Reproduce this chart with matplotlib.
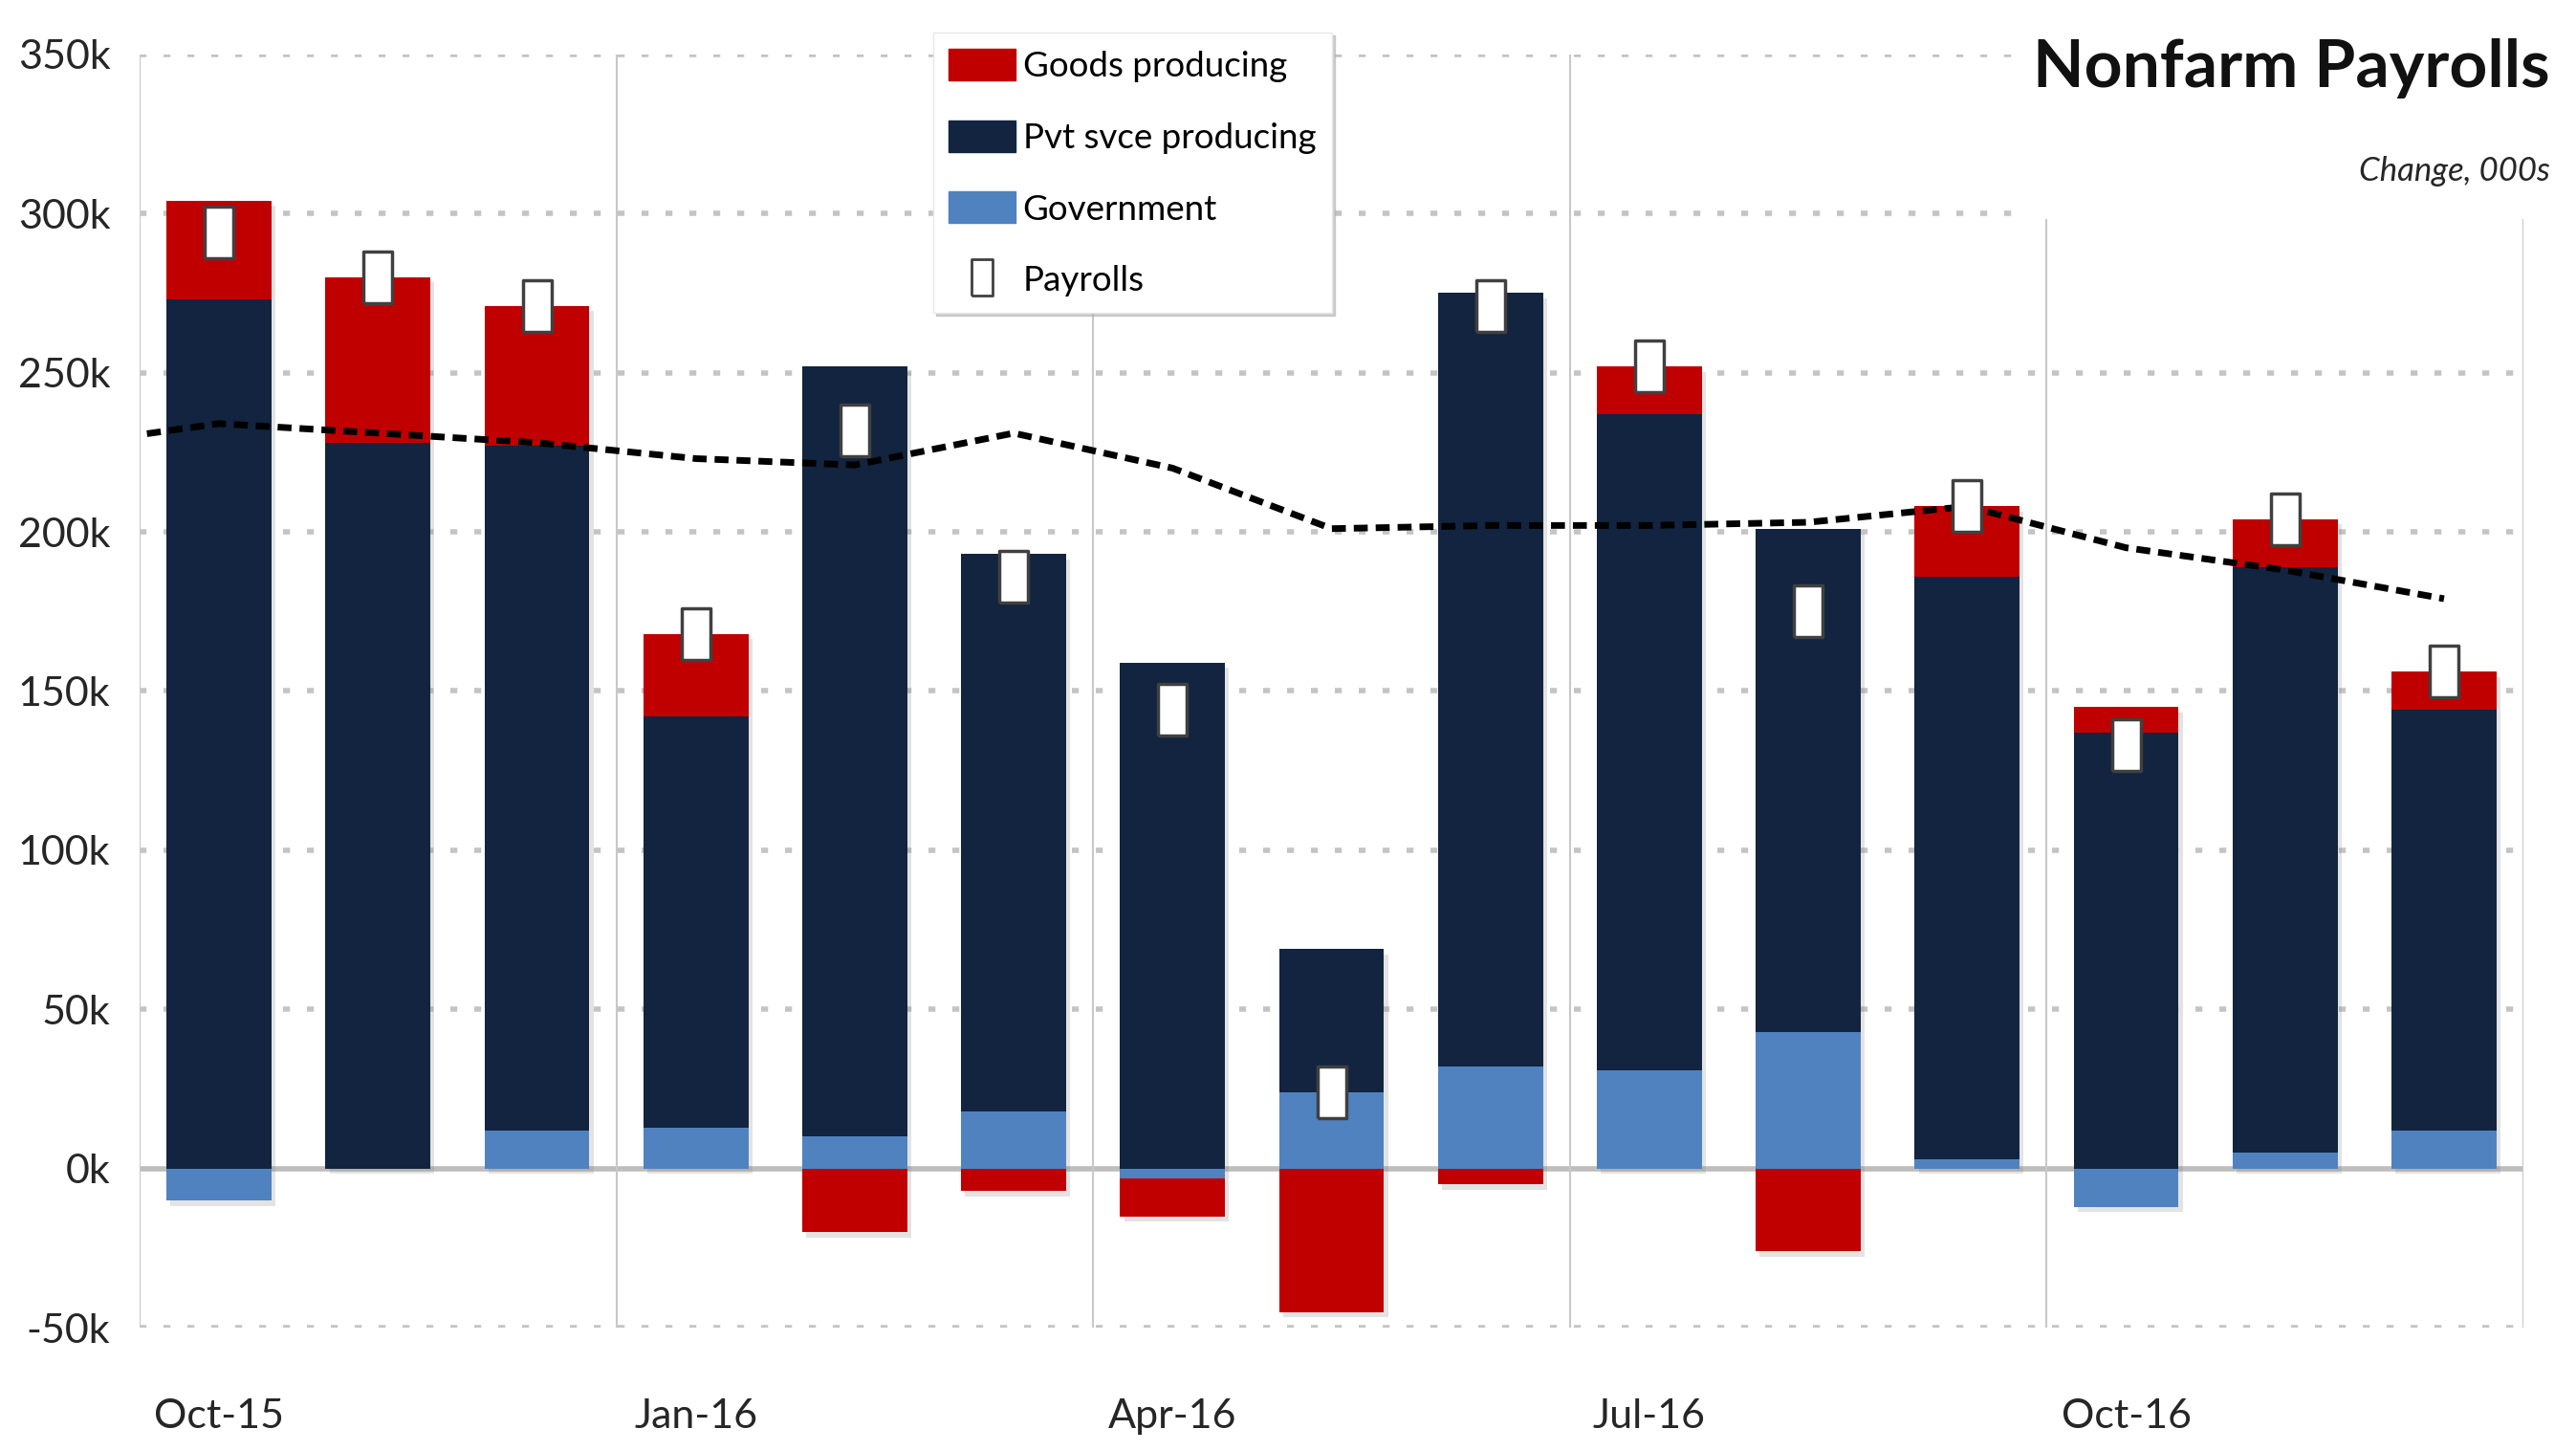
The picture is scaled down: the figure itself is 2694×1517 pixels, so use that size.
import numpy as np
import matplotlib
matplotlib.use('Agg')
import matplotlib.pyplot as plt
from matplotlib.patches import Patch, Rectangle
from matplotlib.lines import Line2D
from matplotlib.transforms import ScaledTranslation

plt.rcParams['font.family'] = ['Lato', 'DejaVu Sans']

# monthly change, thousands
months = ['Oct-15', 'Nov-15', 'Dec-15', 'Jan-16', 'Feb-16', 'Mar-16', 'Apr-16', 'May-16',
          'Jun-16', 'Jul-16', 'Aug-16', 'Sep-16', 'Oct-16', 'Nov-16', 'Dec-16']
goods = [31, 52, 44, 26, -20, -7, -12, -45, -5, 15, -26, 22, 8, 15, 12]
pvt_svce = [273, 228, 215, 129, 242, 175, 159, 45, 243, 206, 158, 183, 137, 184, 132]
govt = [-10, 0, 12, 13, 10, 18, -3, 24, 32, 31, 43, 3, -12, 5, 12]
payrolls = [294, 280, 271, 168, 232, 186, 144, 24, 271, 252, 175, 208, 133, 204, 156]
# 12m average, starts one month earlier (Sep-15)
avg_line = [227, 234, 231, 228, 223, 221, 231, 220, 201, 202, 202, 203, 208, 195, 188, 179]

tick_months = ['Oct-15', 'Jan-16', 'Apr-16', 'Jul-16', 'Oct-16']
y_ticks = [-50, 0, 50, 100, 150, 200, 250, 300, 350]

c_goods = '#C00000'
c_pvt = '#12243F'
c_gov = '#5082C0'

fig = plt.figure(figsize=(26.94, 15.17), dpi=100)
ax = fig.add_axes([0.0542, 0.0849, 0.9254, 0.8777])

x = np.arange(len(months))
w = 0.66

# stack gov -> pvt -> goods, positives up and negatives down
pos = np.zeros(len(months))
neg = np.zeros(len(months))
for vals, col in [(govt, c_gov), (pvt_svce, c_pvt), (goods, c_goods)]:
    v = np.array(vals, dtype=float)
    base = np.where(v >= 0, pos, neg)
    ax.bar(x, v, w, bottom=base, color=col, zorder=3, linewidth=0)
    pos = pos + np.where(v >= 0, v, 0)
    neg = neg + np.where(v < 0, v, 0)

# soft drop shadow under each bar
shadow_tr = ax.transData + ScaledTranslation(3 / 72, -4 / 72, fig.dpi_scale_trans)
ax.bar(x, pos - neg, w, bottom=neg, color='#808080', alpha=0.22, zorder=2,
       linewidth=0, transform=shadow_tr)

ax.plot(np.arange(-1, len(months)), avg_line, color='black', lw=5,
        dashes=(2.1, 1.2), zorder=4)

rect = [(-0.55, -1), (0.55, -1), (0.55, 1), (-0.55, 1), (-0.55, -1)]
ax.plot(x, payrolls, linestyle='none', marker=rect, markersize=39,
        markerfacecolor='white', markeredgecolor='#404040', markeredgewidth=2.5, zorder=5)

# grid
for yv in y_ticks:
    if yv == 0:
        ax.axhline(0, color='#bdbdbd', lw=4, zorder=1)
    else:
        ax.axhline(yv, color='#c4c4c4', lw=4, dashes=(1.3, 3.2), zorder=1)
for xv in np.arange(-0.5, len(months), 3):
    ax.axvline(xv, color='#c8c8c8', lw=1.5, zorder=1)

ax.set_xlim(-0.5, len(months) - 0.5)
ax.set_ylim(-50, 350)
ax.set_yticks(y_ticks)
ax.set_yticklabels([f'{v}k' for v in y_ticks])
ax.set_xticks([months.index(m) for m in tick_months])
ax.set_xticklabels(tick_months)
ax.tick_params(axis='y', length=0, pad=22, labelsize=31, labelcolor='#262626')
ax.tick_params(axis='x', length=0, pad=53, labelsize=31, labelcolor='#262626')
for s in ax.spines.values():
    s.set_visible(False)

handles = [Patch(color=c_goods), Patch(color=c_pvt), Patch(color=c_gov),
           Line2D([], [], linestyle='none', marker=rect, markersize=28,
                  markerfacecolor='white', markeredgecolor='#404040', markeredgewidth=2)]
labels = ['Goods producing', 'Pvt svce producing', 'Government', 'Payrolls']
leg = ax.legend(handles, labels, loc='upper left', bbox_to_anchor=(0.3622, 0.9774),
                bbox_transform=fig.transFigure, fontsize=26.5, frameon=True, fancybox=False,
                edgecolor='#e8e8e8', framealpha=1, handlelength=1.9, handleheight=1.0,
                handletextpad=0.2, labelspacing=1.08, borderpad=0.45, borderaxespad=0,
                shadow={'color': '#b0b0b0', 'alpha': 0.6})
leg.set_zorder(10)

# white block behind the title
fig.patches.append(Rectangle((0.781, 0.849), 0.219, 0.151, transform=fig.transFigure,
                             facecolor='white', edgecolor='none', zorder=1))
fig.text(0.990, 0.953, 'Nonfarm Payrolls', ha='right', va='center', fontsize=50,
         fontweight='bold', color='#111111', zorder=2)
fig.text(0.990, 0.882, 'Change, 000s', ha='right', va='center', fontsize=25,
         fontstyle='italic', color='#262626', zorder=2)

fig.savefig('out.png', dpi=100)
